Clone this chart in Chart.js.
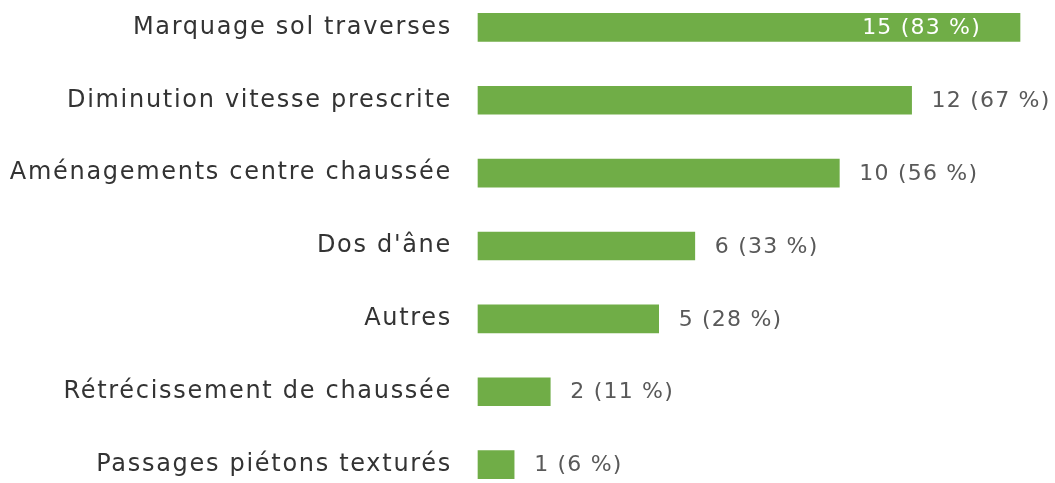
<!DOCTYPE html>
<html>
<head>
<meta charset="utf-8">
<script src="https://cdn.jsdelivr.net/npm/chart.js@4"></script>
<style>
  html, body { margin: 0; padding: 0; background: #fff; overflow: hidden; }
  body { width: 1055px; height: 483px; position: relative; }
  /* la zone du graphique dépasse un peu en haut et en bas, comme l'original */
  #wrap { width: 1055px; height: 510px; position: absolute; left: 0; top: -9px; }
</style>
</head>
<body>
<div id="wrap"><canvas id="mesuresChart"></canvas></div>
<script>
// Données
const categories = [
    'Marquage sol traverses',
    'Diminution vitesse prescrite',
    'Aménagements centre chaussée',
    "Dos d'âne",
    'Autres',
    'Rétrécissement de chaussée',
    'Passages piétons texturés'
];
const counts = [15, 12, 10, 6, 5, 2, 1];
const percents = [83, 67, 56, 33, 28, 11, 6];

const barColor = '#70AD47';
const labelFont = '"DejaVu Sans", sans-serif';

// Espacement des lettres pour les libellés de l'axe
const letterSpacing = {
    id: 'letterSpacing',
    beforeDraw(chart) {
        chart.ctx.letterSpacing = '1.7px';
    }
};

// Étiquettes de valeur : dans la barre si elle touche le bord, sinon à droite
const valueLabels = {
    id: 'valueLabels',
    afterDatasetsDraw(chart) {
        const ctx = chart.ctx;
        const meta = chart.getDatasetMeta(0);
        ctx.save();
        ctx.font = '22px ' + labelFont;
        ctx.letterSpacing = '1.2px';
        ctx.textBaseline = 'middle';
        meta.data.forEach((bar, i) => {
            const txt = counts[i] + ' (' + percents[i] + ' %)';
            const w = ctx.measureText(txt).width;
            if (bar.x + 19 + w > chart.width) {
                ctx.fillStyle = '#ffffff';
                ctx.textAlign = 'right';
                ctx.fillText(txt, bar.x - 39, bar.y + 1);
            } else {
                ctx.fillStyle = '#595959';
                ctx.textAlign = 'left';
                ctx.fillText(txt, bar.x + 20, bar.y + 1);
            }
        });
        ctx.restore();
    }
};

const ctx = document.getElementById('mesuresChart').getContext('2d');
new Chart(ctx, {
    type: 'bar',
    data: {
        labels: categories,
        datasets: [{
            data: counts,
            backgroundColor: barColor,
            borderWidth: 0,
            barThickness: 28,
            clip: false
        }]
    },
    options: {
        indexAxis: 'y',
        responsive: true,
        maintainAspectRatio: false,
        animation: false,
        layout: { padding: { top: 0, bottom: 0, left: 0, right: 35 } },
        plugins: {
            legend: { display: false },
            tooltip: { enabled: false }
        },
        scales: {
            x: {
                display: false,
                min: 0,
                max: 15
            },
            y: {
                grid: { display: false, drawTicks: false },
                border: { display: false },
                ticks: {
                    padding: 26,
                    color: '#333333',
                    font: { family: labelFont, size: 24 }
                },
                afterFit: (scale) => {
                    scale.width = 478;
                    scale.paddingTop = 0;
                    scale.paddingBottom = 0;
                }
            }
        }
    },
    plugins: [letterSpacing, valueLabels]
});
</script>
</body>
</html>
